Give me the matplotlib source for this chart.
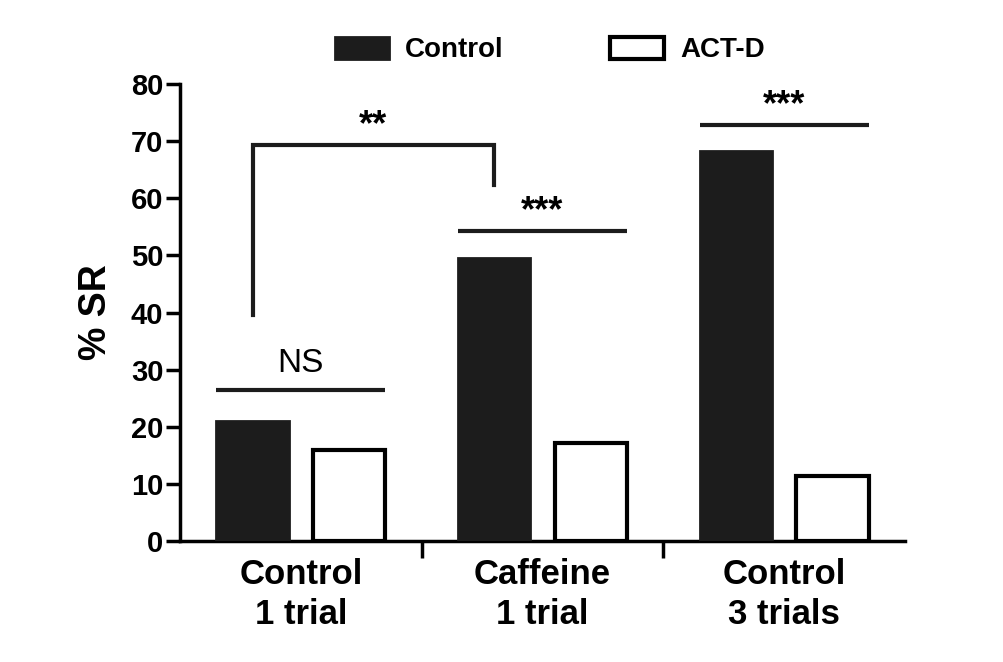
import numpy as np
import matplotlib
matplotlib.use("Agg")
import matplotlib.pyplot as plt

plt.rcParams["font.family"] = ["Liberation Sans", "DejaVu Sans"]
plt.rcParams["font.weight"] = "bold"

groups = ["Control\n1 trial", "Caffeine\n1 trial", "Control\n3 trials"]
control = [21.0, 49.5, 68.2]
actd = [15.9, 17.1, 11.4]

# significance bars: (group, y, label)
sig_lines = [(0, 26.5, "NS"), (1, 54.3, "***"), (2, 72.8, "***")]
bracket = dict(x0=0, x1=1, y_top=69.3, y_left=39.5, y_right=62.3, label="**")

offset = 0.2
width = 0.3
x = np.arange(len(groups))

fig = plt.figure(figsize=(10.04, 6.62), dpi=100)
ax = fig.add_axes([0.1793, 0.1828, 0.7221, 0.6902])

ax.bar(x - offset, control, width, color="#1c1c1c", edgecolor="#1c1c1c",
       linewidth=2, label="Control", zorder=3)
ax.bar(x + offset, actd, width, color="white", edgecolor="black",
       linewidth=3, label="ACT-D", zorder=3)

lw = 3
for g, y, lab in sig_lines:
    ax.plot([g - offset - width / 2, g + offset + width / 2], [y, y],
            color="#1c1c1c", linewidth=lw, solid_capstyle="butt")
    if lab == "NS":
        ax.text(g, y + 1.8, lab, ha="center", va="bottom", fontsize=24,
                fontweight="normal", fontstretch="condensed")
    else:
        ax.text(g, y + 0.3, lab, ha="center", va="bottom", fontsize=26)

# bracket between control bars of the first two groups
bx0 = bracket["x0"] - offset
bx1 = bracket["x1"] - offset
ax.plot([bx0, bx0, bx1, bx1],
        [bracket["y_left"], bracket["y_top"], bracket["y_top"], bracket["y_right"]],
        color="#1c1c1c", linewidth=lw, solid_joinstyle="miter")
ax.text((bx0 + bx1) / 2, bracket["y_top"] + 0.3, bracket["label"],
        ha="center", va="bottom", fontsize=26)

ax.set_xlim(-0.5, 2.5)
ax.set_ylim(0, 80)
ax.set_yticks(np.arange(0, 81, 10))
ax.tick_params(axis="y", labelsize=21, width=2.5, length=10, pad=2)
ax.set_xticks([0.5, 1.5])
ax.set_xticklabels([])
ax.set_xticks(x, minor=True)
ax.set_xticklabels(groups, minor=True, fontsize=25, linespacing=1.3)
ax.tick_params(axis="x", which="major", width=2.5, length=12)
ax.tick_params(axis="x", which="minor", length=0, pad=12)
ax.set_ylabel("% SR", fontsize=27, fontweight="bold", labelpad=12)

for s in ["top", "right"]:
    ax.spines[s].set_visible(False)
for s in ["left", "bottom"]:
    ax.spines[s].set_linewidth(2.5)

ax.legend(loc="lower center", bbox_to_anchor=(0.51, 1.0), ncol=2, frameon=False,
          prop=dict(size=20, weight="bold"), handlelength=1.95, handleheight=0.85,
          columnspacing=3.8, handletextpad=0.6, borderaxespad=0.35)

fig.savefig("out.png", dpi=100)
